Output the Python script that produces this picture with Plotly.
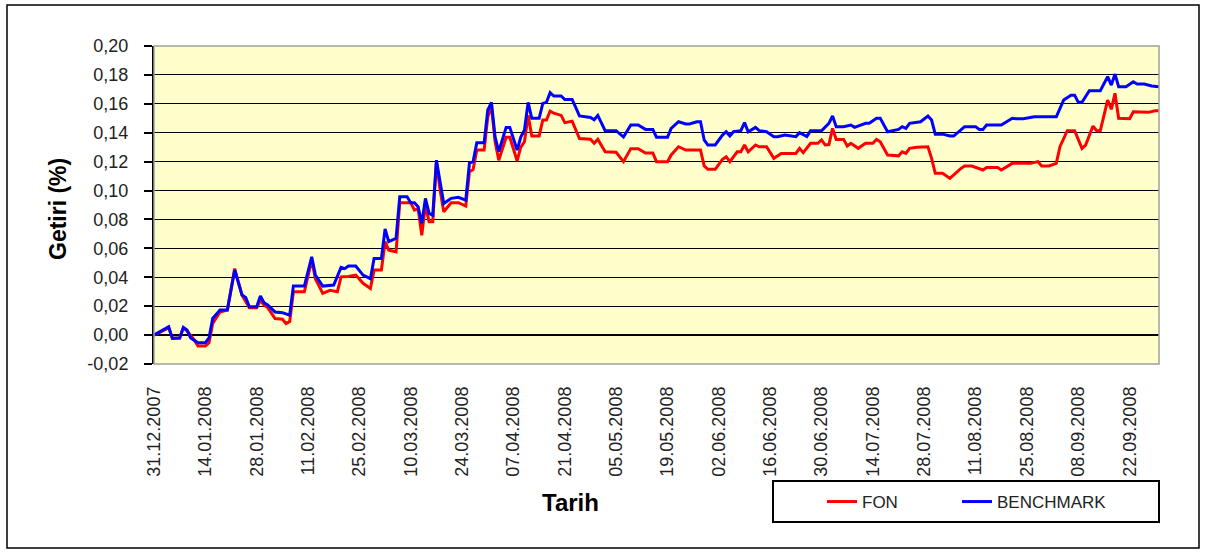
import plotly.graph_objects as go

# ---------------- data ----------------
bench_dates = [
    "2007-12-31", "2008-01-04", "2008-01-05", "2008-01-07", "2008-01-08", "2008-01-09", "2008-01-10",
    "2008-01-12", "2008-01-14", "2008-01-15", "2008-01-16", "2008-01-18", "2008-01-20", "2008-01-22",
    "2008-01-24", "2008-01-25", "2008-01-26", "2008-01-28", "2008-01-29", "2008-01-30", "2008-01-31",
    "2008-02-02", "2008-02-04", "2008-02-06", "2008-02-07", "2008-02-10", "2008-02-12", "2008-02-13",
    "2008-02-15", "2008-02-18", "2008-02-20", "2008-02-21", "2008-02-22", "2008-02-24", "2008-02-26",
    "2008-02-28", "2008-02-29", "2008-03-02", "2008-03-03", "2008-03-04", "2008-03-06", "2008-03-07",
    "2008-03-09", "2008-03-10", "2008-03-11", "2008-03-12", "2008-03-13", "2008-03-14", "2008-03-15",
    "2008-03-16", "2008-03-17", "2008-03-18", "2008-03-19", "2008-03-21", "2008-03-23", "2008-03-25",
    "2008-03-26", "2008-03-27", "2008-03-28", "2008-03-30", "2008-03-31", "2008-04-01", "2008-04-02",
    "2008-04-03", "2008-04-05", "2008-04-06", "2008-04-08", "2008-04-09", "2008-04-10", "2008-04-11",
    "2008-04-12", "2008-04-14", "2008-04-15", "2008-04-16", "2008-04-17", "2008-04-18", "2008-04-20",
    "2008-04-21", "2008-04-23", "2008-04-25", "2008-04-28", "2008-04-29", "2008-04-30", "2008-05-02",
    "2008-05-05", "2008-05-07", "2008-05-09", "2008-05-11", "2008-05-13", "2008-05-15", "2008-05-16",
    "2008-05-19", "2008-05-20", "2008-05-22", "2008-05-24", "2008-05-25", "2008-05-27", "2008-05-28",
    "2008-05-29", "2008-05-30", "2008-06-01", "2008-06-03", "2008-06-04", "2008-06-05", "2008-06-06",
    "2008-06-08", "2008-06-09", "2008-06-10", "2008-06-12", "2008-06-13", "2008-06-15", "2008-06-17",
    "2008-06-18", "2008-06-20", "2008-06-23", "2008-06-24", "2008-06-26", "2008-06-27", "2008-06-30",
    "2008-07-02", "2008-07-03", "2008-07-04", "2008-07-06", "2008-07-08", "2008-07-09", "2008-07-12",
    "2008-07-13", "2008-07-15", "2008-07-16", "2008-07-18", "2008-07-21", "2008-07-22", "2008-07-23",
    "2008-07-24", "2008-07-27", "2008-07-29", "2008-07-30", "2008-07-31", "2008-08-02", "2008-08-04",
    "2008-08-05", "2008-08-07", "2008-08-08", "2008-08-11", "2008-08-12", "2008-08-13", "2008-08-14",
    "2008-08-18", "2008-08-19", "2008-08-21", "2008-08-22", "2008-08-24", "2008-08-27", "2008-08-31",
    "2008-09-02", "2008-09-04", "2008-09-06", "2008-09-07", "2008-09-08", "2008-09-09", "2008-09-11",
    "2008-09-14", "2008-09-16", "2008-09-17", "2008-09-18", "2008-09-19", "2008-09-21", "2008-09-23",
    "2008-09-24", "2008-09-26", "2008-09-28", "2008-09-30",
]
bench_values = [
    0.000, 0.0058, -0.0023, -0.002, 0.0053, 0.0035, -0.002,
    -0.0053, -0.0053, -0.002, 0.0115, 0.0173, 0.0173, 0.045,
    0.0277, 0.026, 0.0196, 0.0196, 0.027, 0.0224, 0.0208,
    0.016, 0.0155, 0.0138, 0.0339, 0.0339, 0.0542, 0.0415,
    0.0339, 0.0346, 0.0468, 0.046, 0.0478, 0.0478, 0.0415,
    0.039, 0.053, 0.053, 0.0734, 0.0646, 0.067, 0.0957,
    0.0957, 0.0916, 0.0916, 0.0888, 0.0773, 0.0946, 0.0842,
    0.083, 0.121, 0.107, 0.091, 0.0946, 0.0953, 0.0934,
    0.119, 0.120, 0.133, 0.133, 0.1557, 0.161, 0.137,
    0.127, 0.1437, 0.1437, 0.128, 0.137, 0.1419, 0.161,
    0.150, 0.150, 0.1603, 0.161, 0.1677, 0.1654, 0.1654,
    0.163, 0.163, 0.1516, 0.1506, 0.149, 0.152, 0.1414,
    0.1414, 0.137, 0.1453, 0.1453, 0.1423, 0.1423, 0.1368,
    0.1368, 0.143, 0.1476, 0.146, 0.146, 0.1476, 0.1476,
    0.135, 0.1315, 0.1315, 0.1384, 0.1407, 0.1377, 0.1407,
    0.1414, 0.147, 0.1407, 0.1437, 0.1414, 0.1407, 0.1373,
    0.1373, 0.1384, 0.1373, 0.140, 0.1373, 0.1414, 0.1414,
    0.1465, 0.1516, 0.1442, 0.1442, 0.1453, 0.1437, 0.1465,
    0.1465, 0.150, 0.150, 0.1407, 0.1423, 0.1442, 0.143,
    0.1465, 0.1476, 0.1516, 0.1488, 0.139, 0.139, 0.1377,
    0.1377, 0.1419, 0.1442, 0.1442, 0.1423, 0.1423, 0.1453,
    0.1453, 0.147, 0.150, 0.1497, 0.1497, 0.151, 0.151,
    0.151, 0.1626, 0.166, 0.166, 0.161, 0.161, 0.169,
    0.169, 0.1788, 0.173, 0.1806, 0.1718, 0.1718, 0.1753,
    0.1737, 0.1737, 0.1723, 0.1718,
]

fon_dates = [
    "2007-12-31", "2008-01-04", "2008-01-05", "2008-01-07", "2008-01-08", "2008-01-09", "2008-01-11",
    "2008-01-12", "2008-01-14", "2008-01-15", "2008-01-16", "2008-01-18", "2008-01-20", "2008-01-22",
    "2008-01-24", "2008-01-26", "2008-01-28", "2008-01-29", "2008-01-30", "2008-01-31", "2008-02-02",
    "2008-02-04", "2008-02-05", "2008-02-06", "2008-02-07", "2008-02-10", "2008-02-12", "2008-02-13",
    "2008-02-15", "2008-02-17", "2008-02-19", "2008-02-20", "2008-02-22", "2008-02-24", "2008-02-26",
    "2008-02-28", "2008-02-29", "2008-03-02", "2008-03-03", "2008-03-04", "2008-03-06", "2008-03-07",
    "2008-03-09", "2008-03-10", "2008-03-11", "2008-03-12", "2008-03-13", "2008-03-14", "2008-03-15",
    "2008-03-16", "2008-03-17", "2008-03-18", "2008-03-19", "2008-03-21", "2008-03-23", "2008-03-25",
    "2008-03-26", "2008-03-27", "2008-03-28", "2008-03-30", "2008-03-31", "2008-04-01", "2008-04-02",
    "2008-04-03", "2008-04-05", "2008-04-06", "2008-04-08", "2008-04-09", "2008-04-10", "2008-04-11",
    "2008-04-12", "2008-04-14", "2008-04-15", "2008-04-16", "2008-04-17", "2008-04-18", "2008-04-20",
    "2008-04-21", "2008-04-23", "2008-04-25", "2008-04-28", "2008-04-29", "2008-04-30", "2008-05-02",
    "2008-05-05", "2008-05-07", "2008-05-09", "2008-05-11", "2008-05-13", "2008-05-15", "2008-05-16",
    "2008-05-19", "2008-05-20", "2008-05-22", "2008-05-24", "2008-05-26", "2008-05-28", "2008-05-29",
    "2008-05-30", "2008-06-01", "2008-06-03", "2008-06-04", "2008-06-05", "2008-06-07", "2008-06-08",
    "2008-06-09", "2008-06-10", "2008-06-12", "2008-06-13", "2008-06-15", "2008-06-17", "2008-06-19",
    "2008-06-23", "2008-06-24", "2008-06-25", "2008-06-27", "2008-06-29", "2008-06-30", "2008-07-01",
    "2008-07-02", "2008-07-03", "2008-07-04", "2008-07-06", "2008-07-07", "2008-07-08", "2008-07-10",
    "2008-07-12", "2008-07-14", "2008-07-15", "2008-07-16", "2008-07-18", "2008-07-21", "2008-07-22",
    "2008-07-23", "2008-07-24", "2008-07-26", "2008-07-29", "2008-07-30", "2008-07-31", "2008-08-02",
    "2008-08-04", "2008-08-07", "2008-08-08", "2008-08-10", "2008-08-13", "2008-08-14", "2008-08-17",
    "2008-08-18", "2008-08-20", "2008-08-21", "2008-08-26", "2008-08-28", "2008-08-29", "2008-08-31",
    "2008-09-02", "2008-09-03", "2008-09-05", "2008-09-07", "2008-09-09", "2008-09-10", "2008-09-12",
    "2008-09-13", "2008-09-14", "2008-09-16", "2008-09-17", "2008-09-18", "2008-09-19", "2008-09-22",
    "2008-09-23", "2008-09-25", "2008-09-27", "2008-09-29", "2008-09-30",
]
fon_values = [
    0.000, 0.005, -0.002, -0.002, 0.005, 0.003, -0.0035,
    -0.0076, -0.0076, -0.0053, 0.008, 0.016, 0.0173, 0.046,
    0.0277, 0.019, 0.019, 0.024, 0.0208, 0.019, 0.0115,
    0.011, 0.008, 0.0094, 0.030, 0.030, 0.052, 0.039,
    0.0289, 0.031, 0.030, 0.0403, 0.0405, 0.0415, 0.0358,
    0.0323, 0.045, 0.045, 0.0646, 0.0588, 0.0576, 0.0916,
    0.0916, 0.0916, 0.0865, 0.0875, 0.069, 0.090, 0.0784,
    0.0784, 0.120, 0.1003, 0.0853, 0.0916, 0.0916, 0.0893,
    0.113, 0.1145, 0.128, 0.128, 0.151, 0.158, 0.1338,
    0.121, 0.1368, 0.1368, 0.1206, 0.130, 0.1338, 0.152,
    0.1377, 0.1377, 0.1488, 0.1488, 0.155, 0.1535, 0.152,
    0.147, 0.148, 0.136, 0.1355, 0.1327, 0.1355, 0.1268,
    0.1265, 0.120, 0.129, 0.129, 0.126, 0.126, 0.120,
    0.120, 0.1246, 0.1303, 0.128, 0.128, 0.128, 0.117,
    0.1147, 0.1147, 0.1216, 0.1234, 0.120, 0.1268, 0.1268,
    0.1315, 0.1268, 0.1315, 0.1303, 0.1303, 0.1223, 0.1257,
    0.1257, 0.1292, 0.1262, 0.1327, 0.1327, 0.135, 0.1315,
    0.1318, 0.143, 0.1354, 0.1354, 0.1308, 0.1327, 0.1292,
    0.1327, 0.1327, 0.1354, 0.1338, 0.1246, 0.124, 0.1268,
    0.1257, 0.1292, 0.130, 0.1303, 0.1223, 0.1119, 0.1119,
    0.1084, 0.1153, 0.117, 0.117, 0.1142, 0.116, 0.116,
    0.1142, 0.117, 0.1188, 0.1188, 0.120, 0.117, 0.117,
    0.1188, 0.1303, 0.1414, 0.1414, 0.1292, 0.1315, 0.1446,
    0.1414, 0.1414, 0.1626, 0.1562, 0.1673, 0.150, 0.1497,
    0.1545, 0.1541, 0.1541, 0.1552, 0.1552,
]

tick_dates = [
    "2007-12-31", "2008-01-14", "2008-01-28", "2008-02-11", "2008-02-25", "2008-03-10", "2008-03-24",
    "2008-04-07", "2008-04-21", "2008-05-05", "2008-05-19", "2008-06-02", "2008-06-16", "2008-06-30",
    "2008-07-14", "2008-07-28", "2008-08-11", "2008-08-25", "2008-09-08", "2008-09-22",
]
tick_labels = [
    "31.12.2007", "14.01.2008", "28.01.2008", "11.02.2008", "25.02.2008", "10.03.2008", "24.03.2008",
    "07.04.2008", "21.04.2008", "05.05.2008", "19.05.2008", "02.06.2008", "16.06.2008", "30.06.2008",
    "14.07.2008", "28.07.2008", "11.08.2008", "25.08.2008", "08.09.2008", "22.09.2008",
]
y_ticks = [-0.02, 0.00, 0.02, 0.04, 0.06, 0.08, 0.10, 0.12, 0.14, 0.16, 0.18, 0.20]
y_labels = ["-0,02", "0,00", "0,02", "0,04", "0,06", "0,08", "0,10", "0,12", "0,14", "0,16", "0,18", "0,20"]

x_range = ["2007-12-31", "2008-09-30"]
y_range = [-0.02, 0.20]

# ---------------- figure ----------------
FONT = "Liberation Sans, Arial, sans-serif"
W, H = 1206, 554
L, R, T, B = 154, 47, 46, 190
pw, ph = W - L - R, H - T - B


def px(x):  # pixel x -> paper x
    return (x - L) / pw


def py(y):  # pixel y -> paper y
    return (H - B - y) / ph


fig = go.Figure()
fig.add_trace(go.Scatter(x=fon_dates, y=fon_values, mode="lines", name="FON",
                         line=dict(color="#FF0000", width=3), legend="legend"))
fig.add_trace(go.Scatter(x=bench_dates, y=bench_values, mode="lines", name="BENCHMARK",
                         line=dict(color="#0000FF", width=3), legend="legend2"))

legend_common = dict(
    orientation="h", xanchor="left", yanchor="top",
    bgcolor="rgba(0,0,0,0)", borderwidth=0,
    font=dict(size=17, color="#222222", family=FONT),
)

fig.update_layout(
    width=W, height=H,
    margin=dict(l=L, r=R, t=T, b=B, autoexpand=False),
    paper_bgcolor="white",
    plot_bgcolor="#FFFFCC",
    font=dict(family=FONT, color="#222222"),
    xaxis=dict(
        type="date", range=x_range,
        tickmode="array", tickvals=tick_dates, ticktext=tick_labels,
        tickangle=-90, tickfont=dict(size=18, color="#222222"),
        showgrid=False, zeroline=False, showline=False,
        ticks="", ticklabelstandoff=18,
    ),
    yaxis=dict(
        range=y_range, tickmode="array", tickvals=y_ticks, ticktext=y_labels,
        tickfont=dict(size=18, color="#222222"),
        showgrid=True, gridcolor="black", gridwidth=1,
        zeroline=True, zerolinecolor="black", zerolinewidth=2,
        showline=True, linecolor="black", linewidth=2,
        ticks="outside", ticklen=8, tickwidth=2, tickcolor="black",
        ticklabelstandoff=12,
    ),
    showlegend=True,
    legend=dict(x=px(822), y=py(484), **legend_common),
    legend2=dict(x=px(957), y=py(484), **legend_common),
    shapes=[
        # plot-area border
        dict(type="rect", xref="paper", yref="paper", x0=0, x1=1, y0=0, y1=1,
             line=dict(color="#A0A0A0", width=1.5), layer="above"),
        # outer chart border
        dict(type="rect", xref="paper", yref="paper", x0=px(7), x1=px(1199), y0=py(548), y1=py(5),
             line=dict(color="black", width=1.5)),
        # legend box
        dict(type="rect", xref="paper", yref="paper", x0=px(773), x1=px(1159), y0=py(522), y1=py(481),
             line=dict(color="black", width=2), fillcolor="white", layer="above"),
    ],
    annotations=[
        dict(text="<b>Tarih</b>", xref="paper", yref="paper", x=px(570), y=py(502),
             showarrow=False, font=dict(size=24, color="black", family=FONT),
             xanchor="center", yanchor="middle"),
        dict(text="<b>Getiri (%)</b>", xref="paper", yref="paper", x=px(58), y=py(209),
             showarrow=False, textangle=-90, font=dict(size=23, color="black", family=FONT),
             xanchor="center", yanchor="middle"),
    ],
)

fig.update_yaxes(layer="above traces")

# remove the browser's default 8px page margin so the figure sits at (0, 0)
fig.write_html("out.html", config={"displayModeBar": False},
               post_script="document.body.style.margin='0px';")
